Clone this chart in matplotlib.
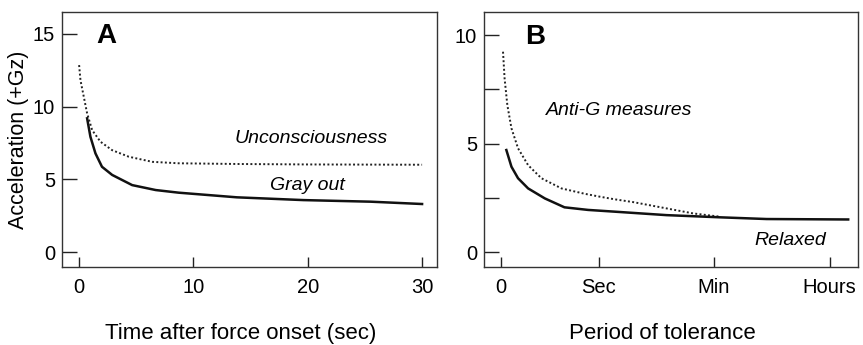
import numpy as np
import matplotlib
matplotlib.use('Agg')
import matplotlib.pyplot as plt

plt.rcParams['font.family'] = ['Liberation Sans', 'DejaVu Sans']

# A: 加速度耐受曲线（时间）
t_uncon = [0, 0.12, 0.41, 0.7, 1.14, 1.87, 2.89, 4.35, 6.4, 8.7, 14, 20, 30]
g_uncon = [12.85, 11.8, 10.67, 9.53, 8.38, 7.58, 7.0, 6.55, 6.2, 6.1, 6.05, 6.02, 6.0]
t_gray = [0.7, 0.99, 1.43, 2.0, 2.89, 4.64, 6.7, 8.7, 13.8, 19.6, 25.5, 30]
g_gray = [9.19, 7.92, 6.78, 5.86, 5.3, 4.6, 4.26, 4.08, 3.76, 3.57, 3.46, 3.3]
a_xticks = [0, 10, 20, 30]
a_yticks = [0, 5, 10, 15]

# B: 耐受时间（分类刻度）
p_anti = [0.024, 0.04, 0.068, 0.11, 0.177, 0.28, 0.415, 0.62, 0.86, 1.01, 1.16, 1.35, 1.69, 1.96, 2.23]
g_anti = [9.23, 8.0, 6.77, 5.7, 4.78, 4.0, 3.4, 2.93, 2.68, 2.55, 2.43, 2.3, 2.01, 1.78, 1.63]
p_rel = [0.058, 0.11, 0.177, 0.28, 0.45, 0.65, 0.89, 1.16, 1.69, 2.23, 2.71, 3.54]
g_rel = [4.7, 3.93, 3.4, 2.93, 2.47, 2.06, 1.94, 1.86, 1.7, 1.6, 1.52, 1.5]
b_xticks = [0, 1.0, 2.17, 3.35]
b_xlabels = ['0', 'Sec', 'Min', 'Hours']
b_yticks = [0, 5, 10]
b_yminor = [2.5, 7.5]

fig = plt.figure(figsize=(8.63, 3.45), dpi=100)
ax1 = fig.add_axes([0.0718, 0.2261, 0.4345, 0.7391])
ax2 = fig.add_axes([0.5608, 0.2261, 0.4334, 0.7391])

tick_kw = dict(direction='in', labelsize=14.5, width=1.0, color='#222222')

# 图A
ax1.plot(t_uncon, g_uncon, ls=(0, (1, 1.2)), lw=1.4, color='#222222')
ax1.plot(t_gray, g_gray, ls='-', lw=1.8, color='#111111')
ax1.set_xlim(-1.5, 31.3)
ax1.set_ylim(-1.03, 16.5)
ax1.set_xticks(a_xticks)
ax1.set_yticks(a_yticks)
ax1.tick_params(axis='y', length=11, pad=5, **tick_kw)
ax1.tick_params(axis='x', length=7, pad=8, **tick_kw)
ax1.set_ylabel('Acceleration (+Gz)', fontsize=15.5, labelpad=3)
ax1.text(1.5, 14.85, 'A', fontsize=20, fontweight='bold', va='center', ha='left')
ax1.text(20.3, 7.8, 'Unconsciousness', fontsize=14, style='italic', ha='center', va='center')
ax1.text(20.0, 4.6, 'Gray out', fontsize=14, style='italic', ha='center', va='center')

# 图B
ax2.plot(p_anti, g_anti, ls=(0, (1, 1.2)), lw=1.4, color='#222222')
ax2.plot(p_rel, g_rel, ls='-', lw=1.8, color='#111111')
ax2.set_xlim(-0.17, 3.64)
ax2.set_ylim(-0.69, 11.06)
ax2.set_xticks(b_xticks)
ax2.set_xticklabels(b_xlabels)
ax2.set_yticks(b_yticks)
ax2.set_yticks(b_yminor, minor=True)
ax2.tick_params(axis='y', which='both', length=11, pad=5, **tick_kw)
ax2.tick_params(axis='x', length=7, pad=8, **tick_kw)
ax2.text(0.245, 9.9, 'B', fontsize=20, fontweight='bold', va='center', ha='left')
ax2.text(1.21, 6.54, 'Anti-G measures', fontsize=14, style='italic', ha='center', va='center')
ax2.text(2.95, 0.55, 'Relaxed', fontsize=14, style='italic', ha='center', va='center')

# x轴标题放在图底部
fig.text(241 / 863, 0.017, 'Time after force onset (sec)', fontsize=16, ha='center', va='baseline')
fig.text(662 / 863, 0.017, 'Period of tolerance', fontsize=16, ha='center', va='baseline')

for ax in (ax1, ax2):
    for s in ax.spines.values():
        s.set_linewidth(1.0)
        s.set_color('#333333')

fig.savefig('out.png', dpi=100)
